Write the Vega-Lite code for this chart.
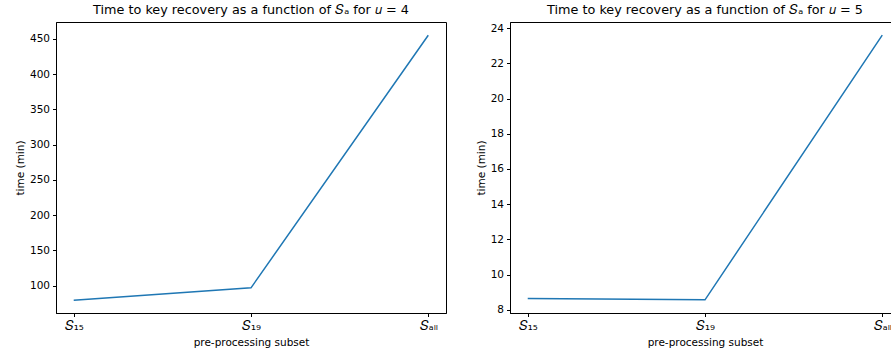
{
  "$schema": "https://vega.github.io/schema/vega-lite/v6.json",
  "background": "white",
  "padding": {"left": 14, "top": 3, "right": 0, "bottom": 0},
  "bounds": "flush",
  "spacing": 64,
  "datasets": {
    "u4": [
      {"subset": "𝑆₁₅", "time": 79.5},
      {"subset": "𝑆₁₉", "time": 97},
      {"subset": "𝑆ₐₗₗ", "time": 455}
    ],
    "u5": [
      {"subset": "𝑆₁₅", "time": 8.65},
      {"subset": "𝑆₁₉", "time": 8.57},
      {"subset": "𝑆ₐₗₗ", "time": 23.6}
    ]
  },
  "config": {
    "font": "DejaVu Sans",
    "view": {"stroke": "black", "strokeWidth": 1},
    "axis": {
      "grid": false,
      "domainColor": "black",
      "tickColor": "black",
      "labelColor": "black",
      "titleColor": "black",
      "tickSize": 3.5,
      "labelPadding": 3,
      "labelFontSize": 10.5,
      "titleFontSize": 10.5,
      "titleFontWeight": "normal"
    },
    "axisX": {"labelFontSize": 12.5, "titlePadding": 5},
    "title": {"fontSize": 12.8, "fontWeight": "normal", "color": "black", "offset": 5}
  },
  "hconcat": [
    {
      "title": "Time to key recovery as a function of 𝑆ₐ for 𝑢 = 4",
      "data": {"name": "u4"},
      "width": 390,
      "height": 291,
      "mark": {"type": "line", "color": "#1f77b4", "strokeWidth": 1.5},
      "encoding": {
        "x": {
          "field": "subset", "type": "ordinal", "sort": null,
          "scale": {"type": "point", "padding": 0.1},
          "axis": {"labelAngle": 0, "title": "pre-processing subset"}
        },
        "y": {
          "field": "time", "type": "quantitative",
          "scale": {"domain": [61.3, 473.7], "nice": false, "zero": false},
          "axis": {"values": [100, 150, 200, 250, 300, 350, 400, 450], "title": "time (min)"}
        }
      }
    },
    {
      "title": "Time to key recovery as a function of 𝑆ₐ for 𝑢 = 5",
      "data": {"name": "u5"},
      "width": 390,
      "height": 291,
      "mark": {"type": "line", "color": "#1f77b4", "strokeWidth": 1.5},
      "encoding": {
        "x": {
          "field": "subset", "type": "ordinal", "sort": null,
          "scale": {"type": "point", "padding": 0.1},
          "axis": {"labelAngle": 0, "title": "pre-processing subset"}
        },
        "y": {
          "field": "time", "type": "quantitative",
          "scale": {"domain": [7.82, 24.35], "nice": false, "zero": false},
          "axis": {"values": [8, 10, 12, 14, 16, 18, 20, 22, 24], "title": "time (min)"}
        }
      }
    }
  ]
}
